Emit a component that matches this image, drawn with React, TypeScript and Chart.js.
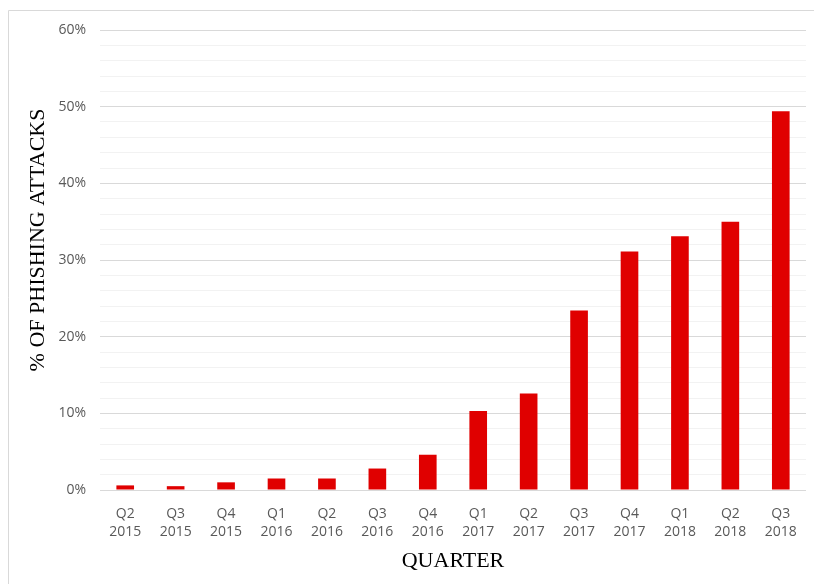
import React, { useEffect, useRef } from "react";
import { Chart, registerables } from "chart.js";

Chart.register(...registerables);

const quarters: string[][] = [
  ["Q2", "2015"], ["Q3", "2015"], ["Q4", "2015"], ["Q1", "2016"], ["Q2", "2016"],
  ["Q3", "2016"], ["Q4", "2016"], ["Q1", "2017"], ["Q2", "2017"], ["Q3", "2017"],
  ["Q4", "2017"], ["Q1", "2018"], ["Q2", "2018"], ["Q3", "2018"],
];
const phishingShare: number[] = [0.6, 0.5, 1.0, 1.5, 1.5, 2.8, 4.6, 10.3, 12.6, 23.4, 31.1, 33.1, 35.0, 49.4];
const yMin = 0;
const yMax = 60;
const yStep = 2;
const yLabelStep = 10;
const yTitle = "% OF PHISHING ATTACKS";
const xTitle = "QUARTER";

const frame = {
  id: "frame",
  beforeDraw(chart: any) {
    const ctx = chart.ctx;
    ctx.save();
    ctx.strokeStyle = "#d9d9d9";
    ctx.lineWidth = 1;
    ctx.beginPath();
    ctx.moveTo(8.5, chart.height);
    ctx.lineTo(8.5, 10.5);
    ctx.lineTo(chart.width, 10.5);
    ctx.stroke();
    ctx.restore();
  },
  afterDraw(chart: any) {
    const ctx = chart.ctx;
    ctx.save();
    ctx.translate(38, 240);
    ctx.rotate(-Math.PI / 2);
    ctx.font = "22px 'Liberation Serif'";
    ctx.fillStyle = "#000";
    ctx.textAlign = "center";
    ctx.textBaseline = "middle";
    ctx.fillText(yTitle, 0, 0);
    ctx.restore();
  },
};

export default function App() {
  const ref = useRef<HTMLCanvasElement>(null);
  useEffect(() => {
    if (!ref.current) return;
    const chart = new Chart(ref.current, {
      type: "bar",
      data: {
        labels: quarters,
        datasets: [
          {
            data: phishingShare,
            backgroundColor: "#e00000",
            borderWidth: 0,
            barPercentage: 0.7,
            categoryPercentage: 0.5,
          },
        ],
      },
      options: {
        animation: false,
        responsive: false,
        maintainAspectRatio: false,
        layout: { padding: { top: 30, right: 8, left: 0, bottom: 0 } },
        plugins: { legend: { display: false }, tooltip: { enabled: false } },
        scales: {
          x: {
            grid: { display: false },
            border: { display: false },
            ticks: {
              color: "#595959",
              font: { family: "'Open Sans'", size: 14, lineHeight: 1.3 },
              padding: 7,
              maxRotation: 0,
              autoSkip: false,
            },
            title: {
              display: true,
              text: xTitle,
              color: "#000",
              font: { family: "'Liberation Serif'", size: 22 },
              padding: { top: 0, bottom: 10 },
            },
            afterFit: (s: any) => { s.height = 94; },
          },
          y: {
            min: yMin,
            max: yMax,
            border: { display: false },
            grid: {
              drawTicks: false,
              color: (c: any) => (c.tick && c.tick.value % yLabelStep === 0 ? "#d9d9d9" : "#f2f2f2"),
              lineWidth: 1,
            },
            ticks: {
              stepSize: yStep,
              autoSkip: false,
              color: "#595959",
              font: { family: "'Open Sans'", size: 14 },
              padding: 14,
              callback: (v: any) => (Number(v) % yLabelStep === 0 ? v + "%" : ""),
            },
            afterFit: (s: any) => { s.width = 100; },
          },
        },
      },
      plugins: [frame],
    });
    return () => chart.destroy();
  }, []);
  return (
    <div style={{ position: "fixed", left: 0, top: 0, width: 814, height: 584, background: "#fff" }}>
      <canvas ref={ref} width={814} height={584} style={{ display: "block" }} />
    </div>
  );
}
